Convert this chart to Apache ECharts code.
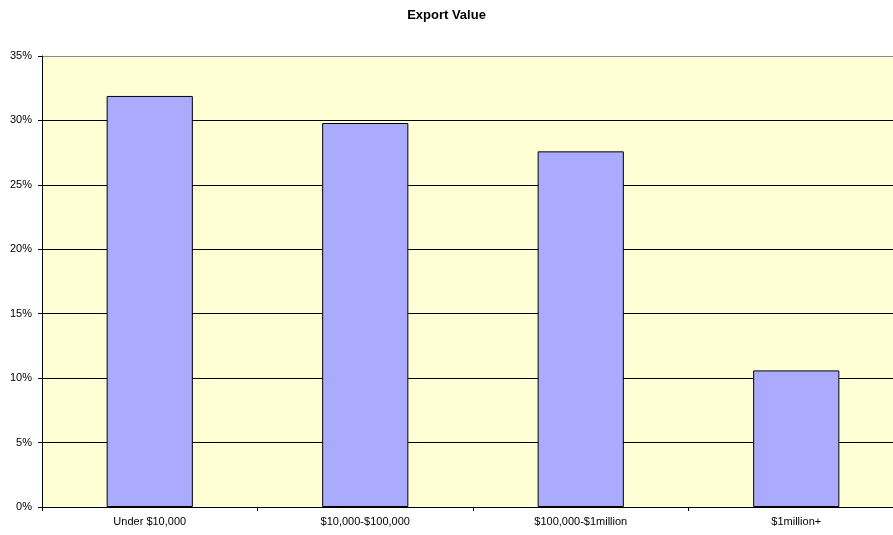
<!DOCTYPE html>
<html>
<head>
<meta charset="utf-8">
<style>
  html, body { margin: 0; padding: 0; background: #ffffff; }
  #chart { width: 893px; height: 535px; }
</style>
<script src="https://cdn.jsdelivr.net/npm/echarts@6/dist/echarts.min.js"></script>
</head>
<body>
<div id="chart"></div>
<script>
// Share of exporters by annual export value (percent)
const categories = ['Under $10,000', '$10,000-$100,000', '$100,000-$1million', '$1million+'];
const shares = [31.9, 29.8, 27.6, 10.6];
const titleText = 'Export Value';

const chart = echarts.init(document.getElementById('chart'), null, { renderer: 'canvas' });

const font = '"Liberation Sans", Arial, sans-serif';

chart.setOption({
  animation: false,
  backgroundColor: '#ffffff',
  title: {
    text: titleText,
    left: 'center',
    top: 4,
    textStyle: { fontFamily: font, fontSize: 13, fontWeight: 'bold', color: '#000' }
  },
  grid: {
    left: 42,
    top: 56,
    width: 862,
    height: 451,
    show: true,
    backgroundColor: '#ffffd5',
    borderWidth: 0,
    containLabel: false,
    outerBoundsMode: 'none'
  },
  xAxis: {
    type: 'category',
    data: categories,
    axisLine: { show: true, lineStyle: { color: '#000', width: 1 } },
    axisTick: { show: true, length: 4, lineStyle: { color: '#000' } },
    axisLabel: { fontFamily: font, fontSize: 11, color: '#000', margin: 9, interval: 0 },
    splitLine: { show: false }
  },
  yAxis: {
    type: 'value',
    min: 0,
    max: 35,
    interval: 5,
    axisLine: { show: true, lineStyle: { color: '#000', width: 1 } },
    axisTick: { show: true, length: 4, lineStyle: { color: '#000' } },
    axisLabel: {
      fontFamily: font, fontSize: 11, color: '#000', margin: 10,
      formatter: v => v + '%'
    },
    splitLine: {
      show: true,
      lineStyle: {
        color: ['#000', '#000', '#000', '#000', '#000', '#000', '#000', '#8a8a8a'],
        width: 1
      }
    }
  },
  series: [{
    type: 'bar',
    data: shares,
    barWidth: '40%',
    itemStyle: { color: '#aaaaff', borderColor: '#000', borderWidth: 1 }
  }]
});
</script>
</body>
</html>
